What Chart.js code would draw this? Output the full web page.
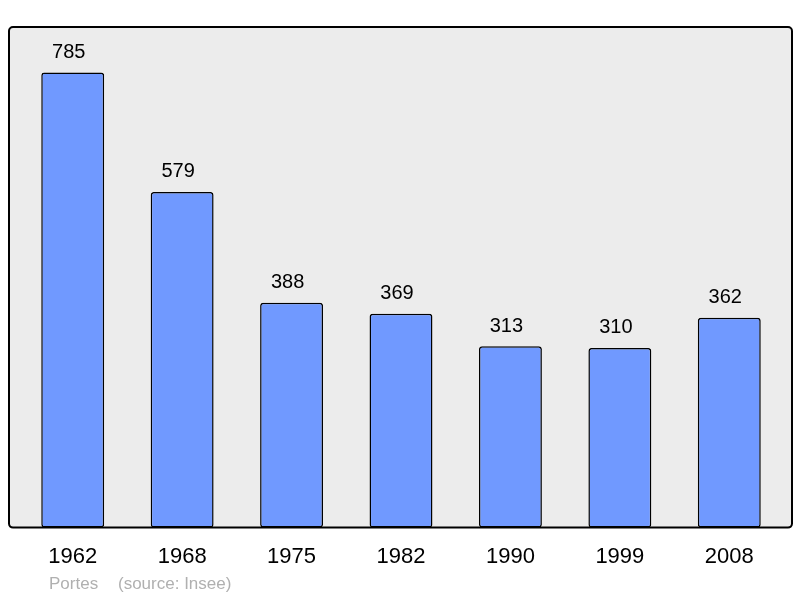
<!DOCTYPE html>
<html><head><meta charset="utf-8">
<script src="https://cdn.jsdelivr.net/npm/chart.js@4/dist/chart.umd.min.js"></script>
<style>html,body{margin:0;padding:0;background:#fff}#w{width:800px;height:598px}</style>
</head><body><div id="w"><canvas id="c"></canvas></div>
<script>
const categories = ["1962","1968","1975","1982","1990","1999","2008"];
const populations = [785,579,388,369,313,310,362];
const footerPlace = "Portes";
const footerSource = "(source: Insee)";

const framePlugin = {
  id: 'frame',
  beforeDraw(chart) {
    const ctx = chart.ctx, a = chart.chartArea;
    const x0 = a.left - 9, x1 = a.right + 8, y0 = a.top, y1 = a.bottom;
    ctx.save();
    ctx.beginPath();
    ctx.roundRect(x0, y0, x1 - x0, y1 - y0, 4);
    ctx.fillStyle = '#ececec';
    ctx.fill();
    ctx.lineWidth = 2;
    ctx.strokeStyle = '#000';
    ctx.stroke();
    ctx.restore();
  },
  afterDatasetsDraw(chart) {
    const ctx = chart.ctx;
    const meta = chart.getDatasetMeta(0);
    ctx.save();
    ctx.font = '20px "Liberation Sans", Arial, sans-serif';
    ctx.fillStyle = '#000';
    ctx.textAlign = 'center';
    ctx.textBaseline = 'middle';
    meta.data.forEach((el, i) => {
      ctx.fillText(String(chart.data.datasets[0].data[i]), el.x - 4, el.y - 20);
    });
    ctx.font = '17px "Liberation Sans", Arial, sans-serif';
    ctx.fillStyle = '#b0b0b0';
    ctx.textAlign = 'left';
    ctx.fillText(footerPlace, 49, 584);
    ctx.fillText(footerSource, 118, 584);
    ctx.restore();
  }
};

new Chart(document.getElementById('c'), {
  type: 'bar',
  data: {
    labels: categories,
    datasets: [{
      data: populations,
      backgroundColor: '#7099ff',
      borderColor: '#000',
      borderWidth: 1.5,
      borderRadius: 3,
      borderSkipped: false,
      categoryPercentage: 1,
      barPercentage: 0.575
    }]
  },
  options: {
    responsive: true,
    maintainAspectRatio: false,
    animation: false,
    layout: { padding: { left: 18, right: 16, top: 27, bottom: 12 } },
    plugins: { legend: { display: false }, tooltip: { enabled: false } },
    scales: {
      x: {
        grid: { display: false, drawTicks: false },
        border: { display: false },
        ticks: { color: '#000', font: { size: 22, family: '"Liberation Sans", Arial, sans-serif' }, padding: 16 }
      },
      y: { display: false, min: 0, max: 863.5 }
    }
  },
  plugins: [framePlugin]
});
</script>
</body></html>
